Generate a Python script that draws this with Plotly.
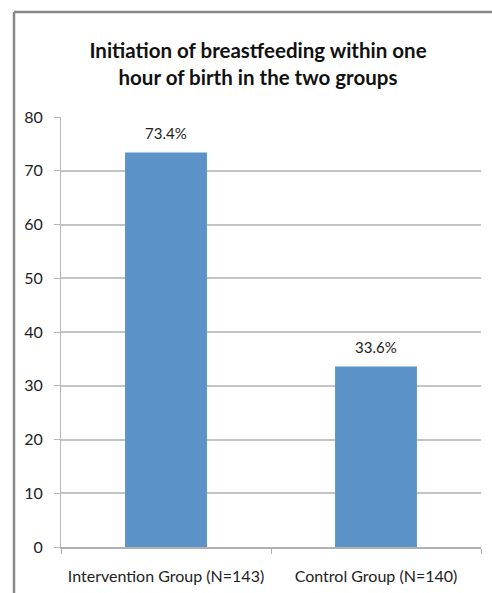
import plotly.graph_objects as go

categories = ["Intervention Group (N=143)", "Control Group (N=140)"]
values = [73.4, 33.6]
tick_vals = [0, 10, 20, 30, 40, 50, 60, 70, 80]
title_text = "Initiation of breastfeeding within one<br>hour of birth in the two groups"

W, H = 492, 593
ml, mr, mt, mb = 61, 11, 117, 46
pw = W - ml - mr
ph = H - mt - mb
FONT = "Lato, Open Sans, sans-serif"

fig = go.Figure(go.Bar(
    x=categories, y=values,
    marker=dict(color="#5b93c9", line=dict(width=0)),
    width=0.39,
))

for c, v in zip(categories, values):
    fig.add_annotation(x=c, y=v, text=f"{v}%", showarrow=False, yanchor="bottom",
                       yshift=8, font=dict(family=FONT, size=15, color="#222"))

fig.update_layout(
    width=W, height=H,
    margin=dict(l=ml, r=mr, t=mt, b=mb, autoexpand=False),
    paper_bgcolor="white", plot_bgcolor="white",
    showlegend=False,
    title=dict(text="<b>" + title_text + "</b>", x=258 / W, xanchor="center",
               y=1 - 58 / H, yanchor="middle",
               font=dict(family=FONT, size=20.5, color="#111")),
    font=dict(family=FONT, size=16, color="#222"),
    xaxis=dict(showline=True, linecolor="#b0b0b0", linewidth=1.5,
               ticks="outside", ticklen=5, tickcolor="#b0b0b0",
               tickson="boundaries", showgrid=False, ticklabelstandoff=14,
               tickangle=0, automargin=False,
               tickfont=dict(size=16)),
    yaxis=dict(range=[0, 80], tickvals=tick_vals, showline=True, linecolor="#b8b8b8",
               linewidth=1, ticks="outside", ticklen=6, tickcolor="#b8b8b8",
               showgrid=True, gridcolor="#c4c4c4", gridwidth=1.5, zeroline=False,
               automargin=False, ticklabelstandoff=8, tickfont=dict(size=16)),
    shapes=[
        dict(type="line", xref="paper", yref="paper",
             x0=(14 - ml) / pw, x1=(14 - ml) / pw, y0=(H - mb - 12) / ph, y1=-(H - mb) / ph,
             line=dict(color="#888", width=2.5)),
        dict(type="line", xref="paper", yref="paper",
             x0=(14 - ml) / pw, x1=(W + 5 - ml) / pw, y0=(H - mb - 12) / ph, y1=(H - mb - 12) / ph,
             line=dict(color="#888", width=2.5)),
    ],
)

fig.write_html("out.html")
